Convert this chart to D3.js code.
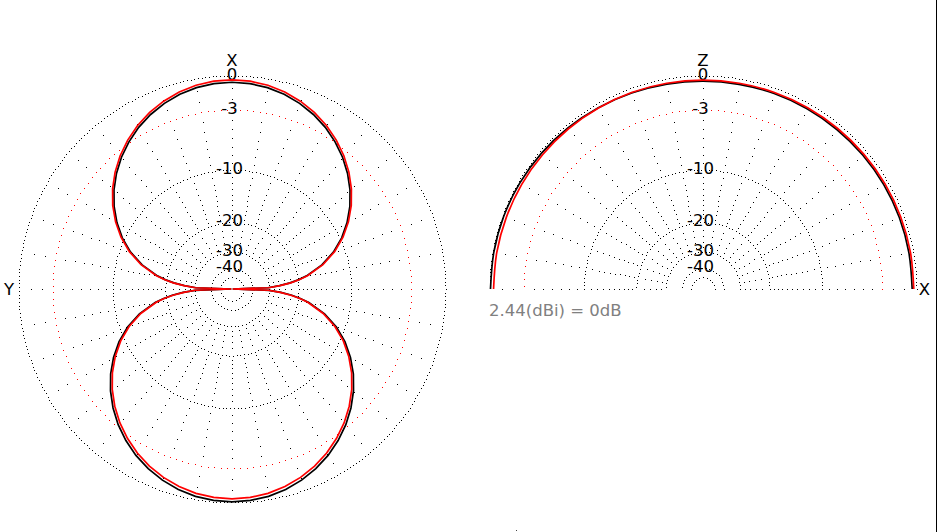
<!DOCTYPE html>
<html><head><meta charset="utf-8">
<script src="https://cdn.jsdelivr.net/npm/d3@7/dist/d3.min.js"></script>
<style>html,body{margin:0;padding:0;background:#fff;overflow:hidden}svg{display:block}</style>
</head><body>
<svg id="c" width="937" height="532"></svg>
<script>
// ---------------- data ----------------
const ringLevels = [0, -3, -10, -20, -30, -40, -50];
const ringLabels = ["0", "-3", "-10", "-20", "-30", "-40"];
const redRingLevel = -3;
const spokeDotLevels = [0,-1,-2,-3,-4,-5,-6,-7,-8,-9,-10,-11,-12,-13,-14,-15,-16,-17,-18,-19,-20,-22,-24,-26,-28,-30];
const gainNote = "2.44(dBi) = 0dB";

// horizontal (azimuth) pattern: angle from X toward Y, degrees
const azAngles = [0,5,10,15,20,25,30,35,40,45,50,55,60,65,70,75,80,82,84,86,88,90,92,94,96,98,100,105,110,115,120,125,130,135,140,145,150,155,160,165,170,175,180,185,190,195,200,205,210,215,220,225,230,235,240,245,250,255,260,262,264,266,268,270,272,274,276,278,280,285,290,295,300,305,310,315,320,325,330,335,340,345,350,355];
const azBlack = [-0.55,-0.60,-0.74,-0.99,-1.33,-1.77,-2.31,-2.96,-3.71,-4.59,-5.60,-6.77,-8.14,-9.74,-11.71,-14.25,-17.78,-19.75,-22.25,-25.75,-30.5,-99,
  -30.05,-25.25,-21.75,-19.25,-17.28,-13.75,-11.21,-9.24,-7.64,-6.27,-5.10,-4.09,-3.21,-2.46,-1.81,-1.27,-0.83,-0.49,-0.24,-0.10,-0.05,
  -0.10,-0.24,-0.49,-0.83,-1.27,-1.81,-2.46,-3.21,-4.09,-5.10,-6.27,-7.64,-9.24,-11.21,-13.75,-17.28,-19.25,-21.75,-25.25,-30.05,-99,
  -30.5,-25.75,-22.25,-19.75,-17.78,-14.25,-11.71,-9.74,-8.14,-6.77,-5.60,-4.59,-3.71,-2.96,-2.31,-1.77,-1.33,-0.99,-0.74,-0.60];
const azRed = [-0.35,-0.40,-0.54,-0.79,-1.13,-1.57,-2.11,-2.76,-3.51,-4.39,-5.40,-6.57,-7.94,-9.54,-11.51,-14.05,-17.58,-19.55,-22.05,-25.55,-30.3,-99,
  -30.3,-25.5,-22.0,-19.5,-17.53,-14.0,-11.46,-9.49,-7.89,-6.52,-5.35,-4.34,-3.46,-2.71,-2.06,-1.52,-1.08,-0.74,-0.49,-0.35,-0.30,
  -0.35,-0.49,-0.74,-1.08,-1.52,-2.06,-2.71,-3.46,-4.34,-5.35,-6.52,-7.89,-9.49,-11.46,-14.0,-17.53,-19.5,-22.0,-25.5,-30.3,-99,
  -30.3,-25.55,-22.05,-19.55,-17.58,-14.05,-11.51,-9.54,-7.94,-6.57,-5.40,-4.39,-3.51,-2.76,-2.11,-1.57,-1.13,-0.79,-0.54,-0.40];

// vertical (elevation) pattern: angle from X toward Z, degrees
const elAngles = [0,10,20,30,40,50,60,70,80,90,100,110,120,130,140,150,160,170,180];
const elBlack = [-0.35,-0.36,-0.37,-0.39,-0.41,-0.43,-0.44,-0.45,-0.46,-0.46,-0.44,-0.40,-0.34,-0.27,-0.20,-0.15,-0.11,-0.09,-0.08];
const elRed = [-0.22,-0.23,-0.25,-0.27,-0.30,-0.32,-0.34,-0.36,-0.37,-0.37,-0.37,-0.36,-0.36,-0.35,-0.35,-0.34,-0.34,-0.33,-0.33];

// ---------------- layout ----------------
const R = 213.5;
const L = {cx: 232, cy: 289};
const Rt = {cx: 703, cy: 289};
const FONT = "'DejaVu Sans', Verdana, sans-serif";

// ARRL log scale: radius = R * 0.89^(-dB/2)  == R * (power ratio)^k
const rScale = d3.scalePow()
  .exponent(-5 * Math.log(0.89) / Math.LN10)
  .domain([0, 1]).range([0, R]);
const rad = dB => rScale(Math.pow(10, dB / 10));
const toRad = d => d * Math.PI / 180;

const svg = d3.select("#c");
svg.append("rect").attr("width", 937).attr("height", 532).attr("fill", "#fff");

const dots = svg.append("g").attr("shape-rendering", "crispEdges");
function dot(x, y, color) {
  dots.append("rect").attr("x", Math.round(x)).attr("y", Math.round(y))
    .attr("width", 1).attr("height", 1).attr("fill", color);
}

function drawGrid(c, full) {
  const tMax = full ? 360 : 180;
  ringLevels.forEach(lv => {
    const r = rad(lv);
    const red = lv === redRingLevel;
    const spacing = red ? 6.5 : 3.7;
    const n = Math.max(8, Math.round((2 * Math.PI * r) / spacing));
    const step = 360 / n;
    for (let a = 0; a <= tMax + 1e-6; a += step) {
      if (!full && a > 180) break;
      const t = toRad(a);
      dot(c.cx + r * Math.cos(t), c.cy - r * Math.sin(t), red ? "#ff0000" : "#000");
    }
  });
  const spokes = d3.range(0, tMax + (full ? 0 : 1), 10);
  spokes.forEach(a => {
    const t = toRad(a);
    spokeDotLevels.forEach(lv => {
      if (ringLevels.includes(lv)) return;
      const r = rad(lv);
      dot(c.cx + r * Math.cos(t), c.cy - r * Math.sin(t), "#000");
    });
  });
}
drawGrid(L, true);
drawGrid(Rt, false);

function drawLabels(c) {
  const g = svg.append("g").attr("font-family", FONT).attr("font-size", 16.5)
    .attr("text-anchor", "middle").attr("fill", "#000");
  ringLabels.forEach((lab, i) => {
    const y = c.cy - rad(ringLevels[i]) + 4;
    g.append("text").attr("x", c.cx + (i === 0 ? 0 : -2.5)).attr("y", y).text(lab);
  });
}
drawLabels(L);
drawLabels(Rt);

const axisText = svg.append("g").attr("font-family", FONT).attr("font-size", 16.5)
  .attr("text-anchor", "middle").attr("fill", "#000");
axisText.append("text").attr("x", L.cx).attr("y", 66).text("X");
axisText.append("text").attr("x", 9).attr("y", 295).text("Y");
axisText.append("text").attr("x", Rt.cx).attr("y", 66).text("Z");
axisText.append("text").attr("x", 924.5).attr("y", 295).text("X");

svg.append("text").attr("x", 489).attr("y", 316).attr("font-family", FONT)
  .attr("font-size", 16.5).attr("fill", "#808080").text(gainNote);

function azLine(c) {
  return d3.line()
    .x(d => c.cx - rad(d[1]) * Math.sin(toRad(d[0])))
    .y(d => c.cy - rad(d[1]) * Math.cos(toRad(d[0])))
    .curve(d3.curveLinearClosed);
}
function elLine(c) {
  return d3.line()
    .x(d => c.cx + rad(d[1]) * Math.cos(toRad(d[0])))
    .y(d => c.cy - rad(d[1]) * Math.sin(toRad(d[0])))
    .curve(d3.curveCatmullRom);
}
const azB = azAngles.map((a, i) => [a, azBlack[i]]);
const azR = azAngles.map((a, i) => [a, azRed[i]]);
const elB = elAngles.map((a, i) => [a, elBlack[i]]);
const elR = elAngles.map((a, i) => [a, elRed[i]]);

svg.append("path").attr("d", azLine(L)(azB)).attr("fill", "none").attr("stroke", "#000").attr("stroke-width", 1.7);
svg.append("path").attr("d", azLine(L)(azR)).attr("fill", "none").attr("stroke", "#ff0000").attr("stroke-width", 1.7);
svg.append("path").attr("d", elLine(Rt)(elB)).attr("fill", "none").attr("stroke", "#000").attr("stroke-width", 1.7);
svg.append("path").attr("d", elLine(Rt)(elR)).attr("fill", "none").attr("stroke", "#ff0000").attr("stroke-width", 1.7);

svg.append("line").attr("x1", 936.5).attr("x2", 936.5).attr("y1", 0).attr("y2", 532)
  .attr("stroke", "#000").attr("stroke-width", 1);
svg.append("rect").attr("x", 516).attr("y", 530).attr("width", 1).attr("height", 1).attr("fill", "#444");
</script>
</body></html>
